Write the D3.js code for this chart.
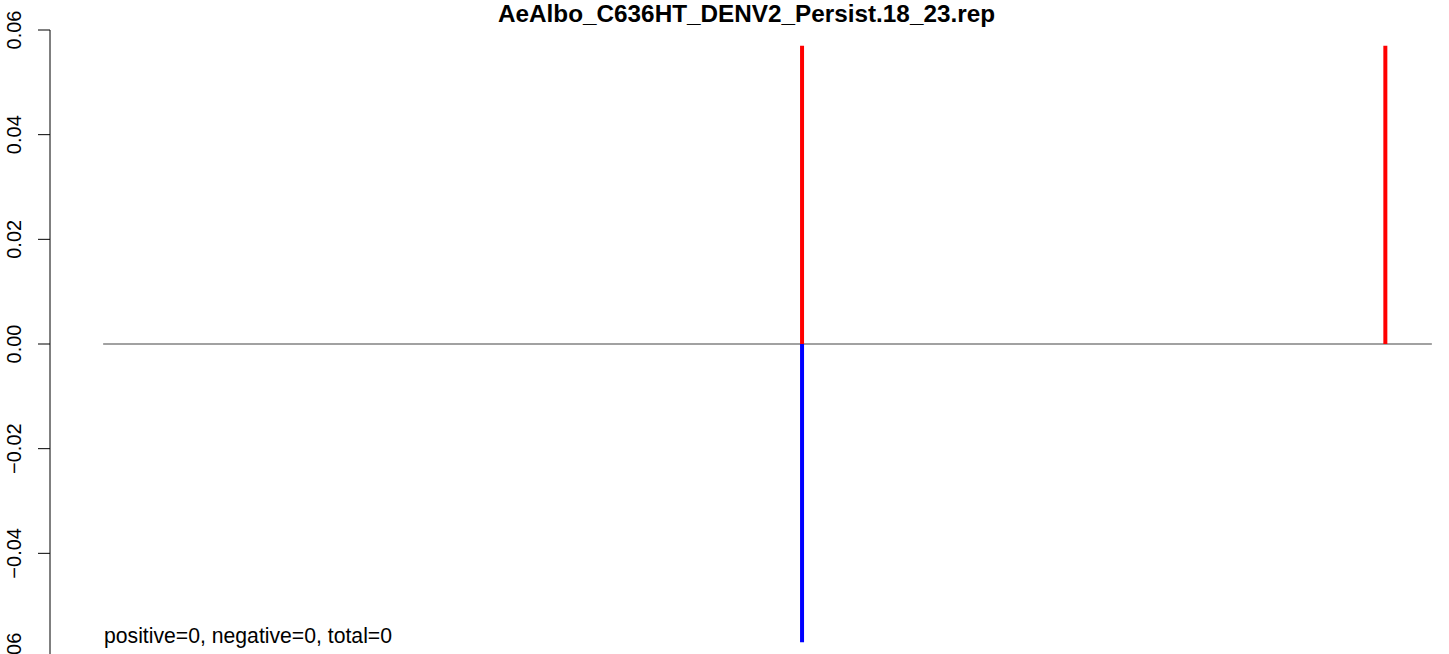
<!DOCTYPE html>
<html>
<head>
<meta charset="utf-8">
<script src="https://cdn.jsdelivr.net/npm/d3@7"></script>
<style>
html,body{margin:0;padding:0;background:#fff;}
svg{display:block;}
text{font-family:"Liberation Sans",Arial,Helvetica,sans-serif;}
</style>
</head>
<body>
<svg id="chart" width="1449" height="654"></svg>
<script>
const title = "AeAlbo_C636HT_DENV2_Persist.18_23.rep";
const xRange = [0, 100];
const positions = [52.6, 96.5];
const posValues = [0.057, 0.057];
const negPositions = [52.6];
const negValues = [-0.057];
const yTicks = [-0.06, -0.04, -0.02, 0.00, 0.02, 0.04, 0.06];
const yTickLabels = ["\u22120.06", "\u22120.04", "\u22120.02", "0.00", "0.02", "0.04", "0.06"];
const summary = "positive=0, negative=0, total=0";

const svg = d3.select("#chart");

// plot region: x with 4% extension on both sides
const span = xRange[1] - xRange[0];
const x = d3.scaleLinear()
  .domain([xRange[0] - 0.04 * span, xRange[1] + 0.04 * span])
  .range([50, 1485]);
const y = d3.scaleLinear().domain([-0.06, 0.06]).range([658, 30]);

// title
svg.append("text")
  .attr("x", 746.5).attr("y", 22)
  .attr("text-anchor", "middle")
  .attr("font-weight", "bold")
  .attr("font-size", 24.3)
  .text(title);

// y axis
const yAxis = d3.axisLeft(y)
  .tickValues(yTicks)
  .tickSize(12)
  .tickFormat((d, i) => yTickLabels[i]);
const gy = svg.append("g").attr("transform", "translate(50,0)").call(yAxis);
gy.select(".domain").attr("d", `M0,${y(0.06)}V${y(-0.06)}`).attr("stroke", "#000").attr("stroke-width", 1);
gy.selectAll(".tick line").attr("stroke", "#000").attr("stroke-width", 1);
gy.selectAll(".tick text")
  .attr("font-size", 20)
  .attr("fill", "#000")
  .attr("text-anchor", "middle")
  .attr("transform", "rotate(-90)")
  .attr("dx", 0)
  .attr("dy", 0)
  .each(function(d){ d3.select(this).attr("x", -y(d)).attr("y", -29); })
  .attr("font-family", "Liberation Sans, Arial, sans-serif");
gy.selectAll(".tick").attr("transform", null);
gy.selectAll(".tick line").each(function(d){ d3.select(this).attr("y1", y(d)).attr("y2", y(d)); });

// zero line
svg.append("line")
  .attr("x1", x(xRange[0])).attr("x2", x(xRange[1]))
  .attr("y1", y(0)).attr("y2", y(0))
  .attr("stroke", "#444").attr("stroke-width", 1.2);

// positive bars
svg.selectAll(".pos").data(positions).enter().append("line")
  .attr("x1", d => x(d)).attr("x2", d => x(d))
  .attr("y1", y(0)).attr("y2", (d, i) => y(posValues[i]))
  .attr("stroke", "#ff0000").attr("stroke-width", 4);

// negative bars
svg.selectAll(".neg").data(negPositions).enter().append("line")
  .attr("x1", d => x(d)).attr("x2", d => x(d))
  .attr("y1", y(0)).attr("y2", (d, i) => y(negValues[i]))
  .attr("stroke", "#0000ff").attr("stroke-width", 4);

// summary text
svg.append("text")
  .attr("x", 104).attr("y", 643)
  .attr("font-size", 21.2)
  .text(summary);
</script>
</body>
</html>
